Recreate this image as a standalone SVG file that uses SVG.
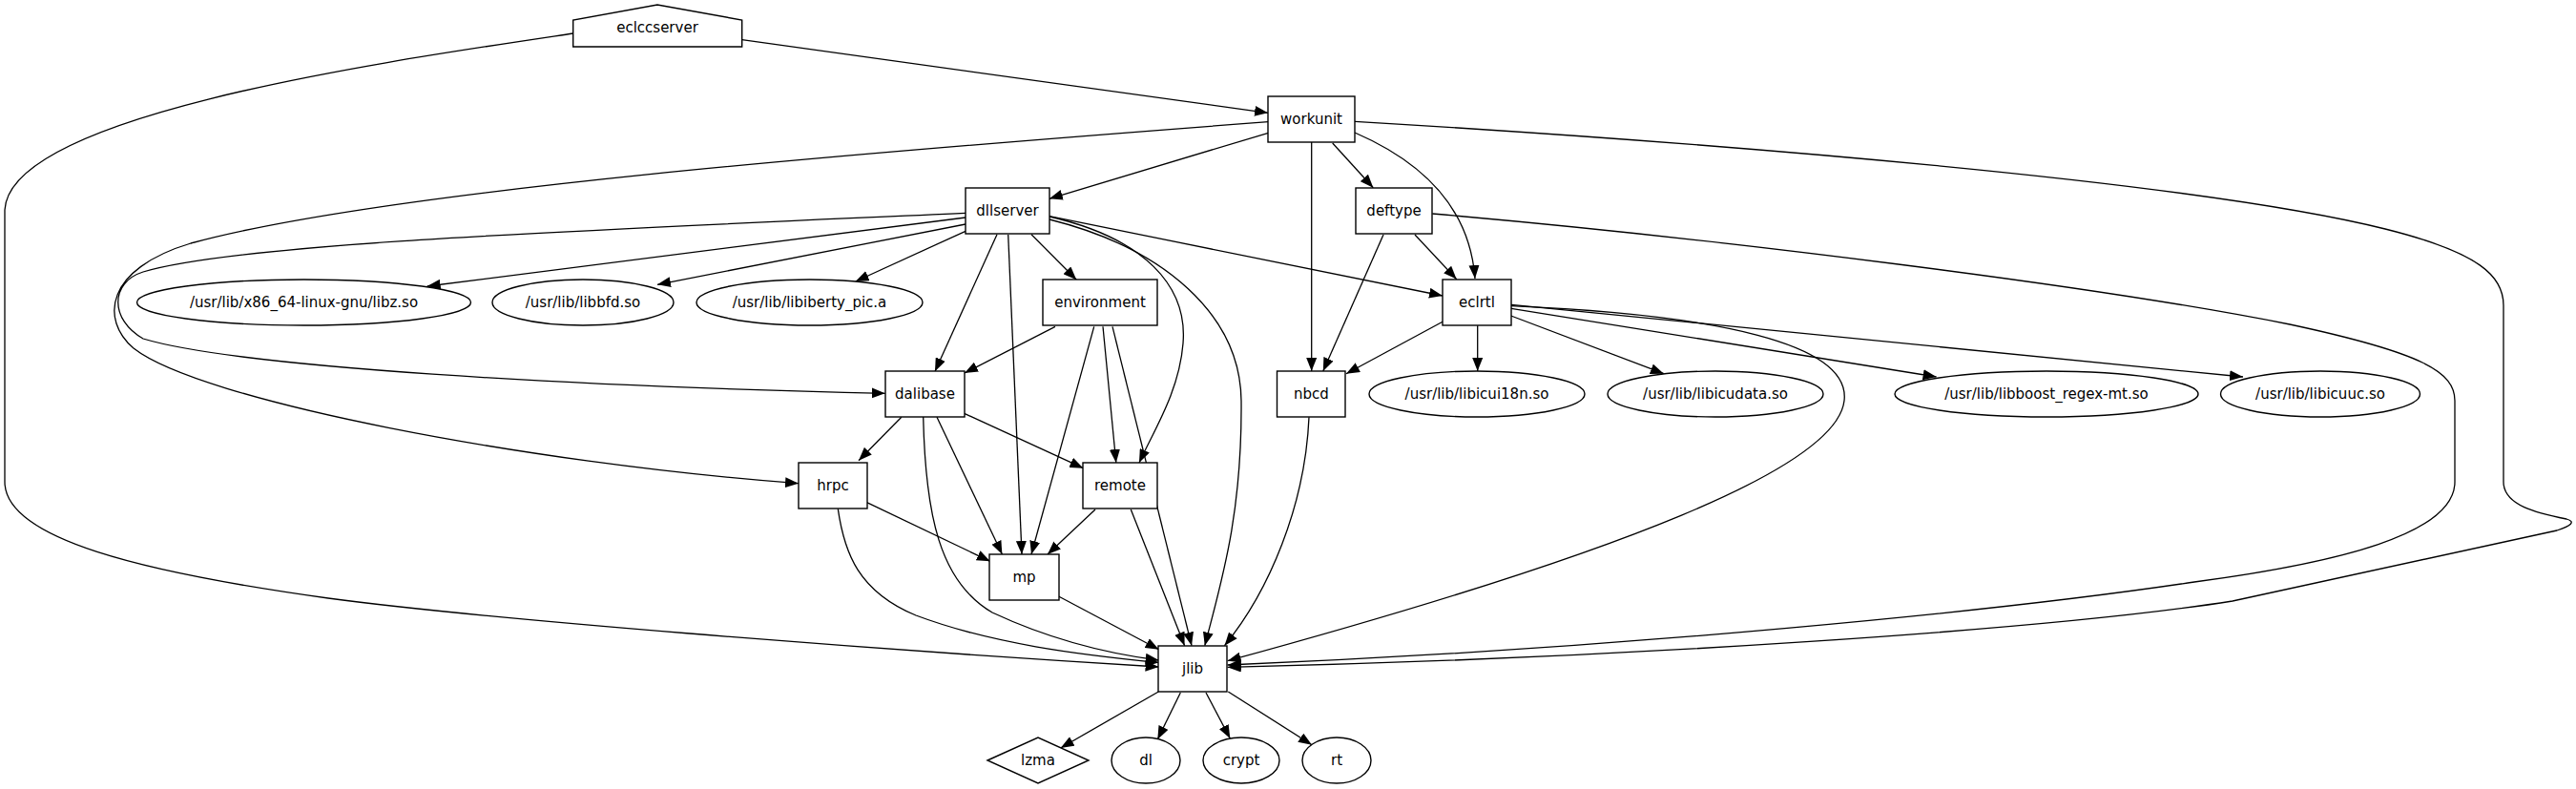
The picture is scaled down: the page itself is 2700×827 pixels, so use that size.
<svg xmlns="http://www.w3.org/2000/svg" width="2700" height="827" viewBox="0 0 2700 827">
<style>
.n{fill:#fff;stroke:#000;stroke-width:1.4}
.e{fill:none;stroke:#000;stroke-width:1.3;marker-end:url(#arr)}
.t{font-family:"DejaVu Sans","Liberation Sans",sans-serif;font-size:15px;text-anchor:middle;fill:#000}
</style>
<defs>
<marker id="arr" markerUnits="userSpaceOnUse" markerWidth="14" markerHeight="11" refX="14" refY="5.5" orient="auto" viewBox="0 0 14 11"><path d="M0,0 L14,5.5 L0,11 z" fill="#000"/></marker>
</defs>
<rect width="2700" height="827" fill="#fff"/>
<g id="edges">
<path class="e" d="M777.7,41.7 L1329,118.3"/>
<path class="e" d="M600.7,35 C400,65 10,120 5,220 L5,505 C5,565 150,600 344,627 C500,648 900,680 1214.6,699"/>
<path class="e" d="M1329.4,139.3 L1099.8,208.3"/>
<path class="e" d="M1396.7,150 L1439.3,196.7"/>
<path class="e" d="M1420,139 C1480,165 1540,210 1546,292"/>
<path class="e" d="M1374.7,149 L1374.7,389"/>
<path class="e" d="M1420,127.3 C1800,150 2300,190 2500,240 C2600,265 2624,290 2624,320 L2624,505 C2624,530 2660,538 2690,544 C2700,547 2695,551 2680,556 L2340,630 C2150,660 1700,690 1286.7,699.3"/>
<path class="e" d="M1501.3,224 C1800,250 2200,300 2400,340 C2540,370 2573,390 2573,420 L2573,505 C2573,560 2450,590 2300,610 C2100,640 1700,680 1286.7,697"/>
<path class="e" d="M1329.4,127.7 C900,160 400,200 200,255 C110,282 105,335 140,365 C210,420 550,485 837,506.7"/>
<path class="e" d="M1012,228 L447.7,300"/>
<path class="e" d="M1012,235 L689,298.3"/>
<path class="e" d="M1012,242.3 L896.7,295"/>
<path class="e" d="M1081,245.7 L1128.3,293.3"/>
<path class="e" d="M1045,245.7 L980,389.3"/>
<path class="e" d="M1056.7,246 L1071,581"/>
<path class="e" d="M1100,227 C1200,250 1245,300 1240,360 C1236,410 1210,450 1194,485"/>
<path class="e" d="M1100,230 C1220,260 1300,330 1301,420 C1302,540 1280,610 1262.8,676.7"/>
<path class="e" d="M1100,226.7 L1512,310"/>
<path class="e" d="M1012,223.3 C600,242 250,255 150,285 C115,296 115,335 150,355 C250,385 600,405 927.7,412.3"/>
<path class="e" d="M1106,342.3 L1011,391"/>
<path class="e" d="M1146.7,342.3 L1081,581"/>
<path class="e" d="M1156,342.3 L1169.8,485"/>
<path class="e" d="M1166,342.3 L1249,676.7"/>
<path class="e" d="M944.8,437.3 L900,482.7"/>
<path class="e" d="M967.7,437 C970,540 985,610 1040,642 C1100,670 1160,685 1214.6,692"/>
<path class="e" d="M982,437.3 L1050.4,581"/>
<path class="e" d="M1010.7,433.3 L1135.4,490.7"/>
<path class="e" d="M908.6,526.7 L1037.8,588.3"/>
<path class="e" d="M878.3,533.3 C885,580 900,620 960,645 C1040,675 1130,686 1214.6,694.5"/>
<path class="e" d="M1148,534 L1098,581"/>
<path class="e" d="M1185.3,534 L1241.6,676.7"/>
<path class="e" d="M1109.5,625 L1214.6,680.7"/>
<path class="e" d="M1372,437.3 C1368,530 1330,620 1283.5,676.7"/>
<path class="e" d="M1450,246 L1386.8,389"/>
<path class="e" d="M1483,246 L1526.7,292.7"/>
<path class="e" d="M1512,337.3 L1411,391.7"/>
<path class="e" d="M1548.7,341.3 L1548.7,389"/>
<path class="e" d="M1583.7,331 L1743.9,391.7"/>
<path class="e" d="M1584,323.3 L2029.6,395"/>
<path class="e" d="M1584,319.3 L2351,395"/>
<path class="e" d="M1584,320.7 C1800,330 1940,360 1933,420 C1925,490 1700,580 1286.7,692.7"/>
<path class="e" d="M1214.3,725 L1111.7,784"/>
<path class="e" d="M1237.3,726 L1213.3,775"/>
<path class="e" d="M1264,726 L1289.3,774"/>
<path class="e" d="M1287.3,725 L1375,780.7"/>
</g>
<g id="eclccserver"><polygon class="n" points="600.7,49 600.7,21 689,5 777.7,21 777.7,49"/><text class="t" x="689" y="34">eclccserver</text></g>
<g id="workunit"><rect class="n" x="1329" y="101" width="91" height="48"/><text class="t" x="1374.5" y="130">workunit</text></g>
<g id="dllserver"><rect class="n" x="1012" y="197" width="88" height="48"/><text class="t" x="1056" y="226">dllserver</text></g>
<g id="deftype"><rect class="n" x="1421" y="197" width="80" height="48"/><text class="t" x="1461" y="226">deftype</text></g>
<g id="libz"><ellipse class="n" cx="318.5" cy="317" rx="175" ry="24"/><text class="t" x="318.5" y="322">/usr/lib/x86_64-linux-gnu/libz.so</text></g>
<g id="libbfd"><ellipse class="n" cx="611" cy="317" rx="95" ry="24"/><text class="t" x="611" y="322">/usr/lib/libbfd.so</text></g>
<g id="libiberty"><ellipse class="n" cx="848.5" cy="317" rx="118.5" ry="24"/><text class="t" x="848.5" y="322">/usr/lib/libiberty_pic.a</text></g>
<g id="environment"><rect class="n" x="1093" y="293" width="120" height="48"/><text class="t" x="1153" y="322">environment</text></g>
<g id="eclrtl"><rect class="n" x="1512" y="293" width="72" height="48"/><text class="t" x="1548" y="322">eclrtl</text></g>
<g id="dalibase"><rect class="n" x="928" y="389" width="83" height="48"/><text class="t" x="969.5" y="418">dalibase</text></g>
<g id="nbcd"><rect class="n" x="1338.5" y="389" width="71.5" height="48"/><text class="t" x="1374.5" y="418">nbcd</text></g>
<g id="libicui18n"><ellipse class="n" cx="1548" cy="413" rx="113" ry="24"/><text class="t" x="1548" y="418">/usr/lib/libicui18n.so</text></g>
<g id="libicudata"><ellipse class="n" cx="1798" cy="413" rx="113" ry="24"/><text class="t" x="1798" y="418">/usr/lib/libicudata.so</text></g>
<g id="libboost"><ellipse class="n" cx="2145" cy="413" rx="159" ry="24"/><text class="t" x="2145" y="418">/usr/lib/libboost_regex-mt.so</text></g>
<g id="libicuuc"><ellipse class="n" cx="2432" cy="413" rx="104.5" ry="24"/><text class="t" x="2432" y="418">/usr/lib/libicuuc.so</text></g>
<g id="hrpc"><rect class="n" x="837" y="485" width="72" height="48"/><text class="t" x="873" y="514">hrpc</text></g>
<g id="remote"><rect class="n" x="1135" y="485" width="78" height="48"/><text class="t" x="1174" y="514">remote</text></g>
<g id="mp"><rect class="n" x="1037" y="581" width="73" height="48"/><text class="t" x="1073.5" y="610">mp</text></g>
<g id="jlib"><rect class="n" x="1214" y="677" width="72" height="48"/><text class="t" x="1250" y="706">jlib</text></g>
<g id="lzma"><polygon class="n" points="1035,797 1088,773 1141,797 1088,821"/><text class="t" x="1088" y="802">lzma</text></g>
<g id="dl"><ellipse class="n" cx="1201" cy="797" rx="36" ry="24"/><text class="t" x="1201" y="802">dl</text></g>
<g id="crypt"><ellipse class="n" cx="1301" cy="797" rx="40" ry="24"/><text class="t" x="1301" y="802">crypt</text></g>
<g id="rt"><ellipse class="n" cx="1401" cy="797" rx="36" ry="24"/><text class="t" x="1401" y="802">rt</text></g>
</svg>
